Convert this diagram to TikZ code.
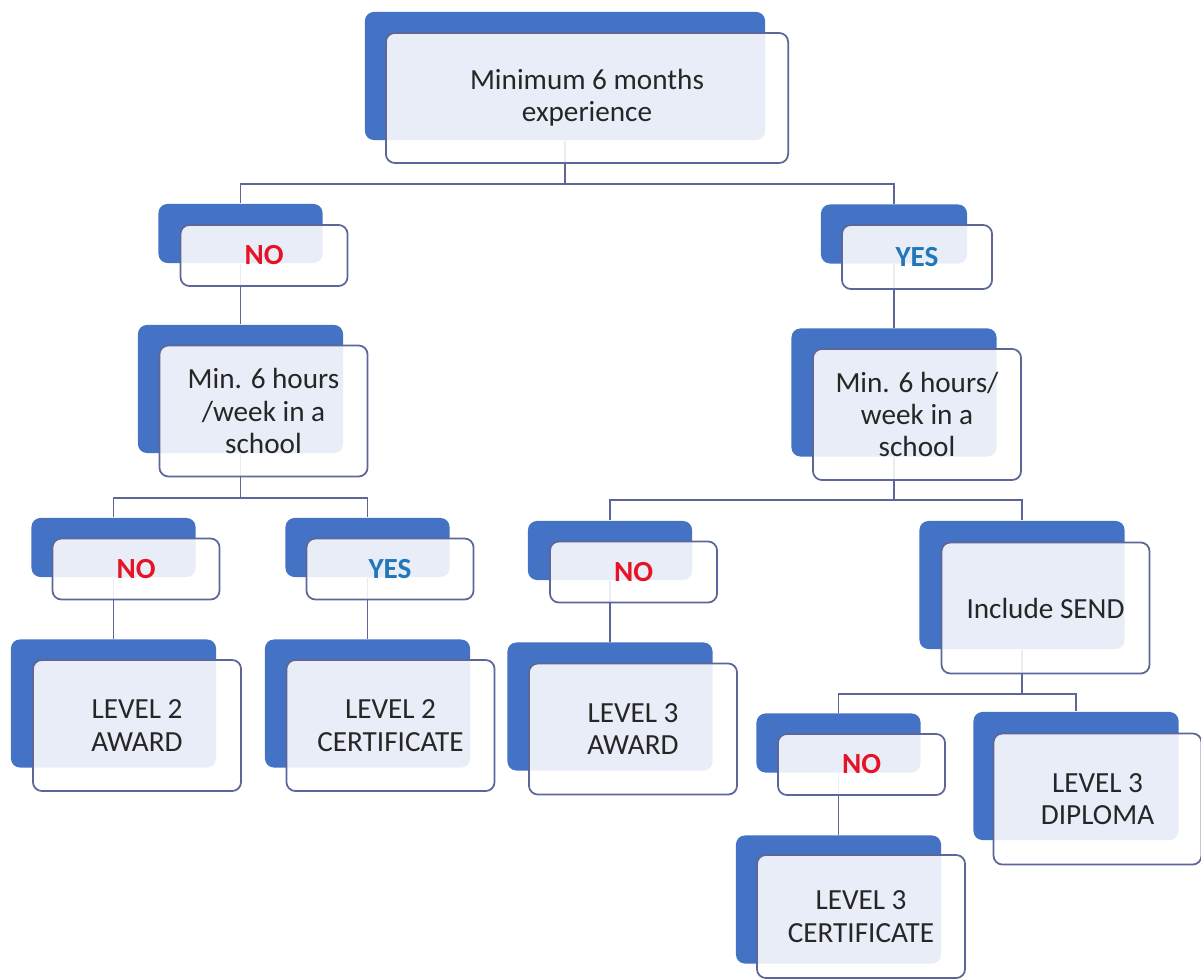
\documentclass[tikz,border=0pt]{standalone}
\usepackage{fontspec}
\setmainfont{Carlito}
\usetikzlibrary{positioning}

\definecolor{backblue}{RGB}{68,114,196}
\definecolor{edgegray}{RGB}{92,102,152}
\definecolor{nored}{RGB}{230,18,38}
\definecolor{yesblue}{RGB}{34,118,186}

\begin{document}
\begin{tikzpicture}[
    x=0.01cm, y=-0.01cm,
    back/.style={fill=backblue, rounded corners=0.09cm, inner sep=0pt},
    front/.style={draw=edgegray, line width=0.5pt, fill=white, fill opacity=0.88,
        text opacity=1, rounded corners=0.09cm, inner sep=0pt, align=center,
        text=black!85, font=\fontsize{8.3}{9.2}\selectfont},
    card/.style={minimum width=2.05cm, minimum height=1.28cm},
    cardf/.style={minimum width=2.08cm, minimum height=1.31cm},
    tag/.style={minimum width=1.64cm, minimum height=0.59cm},
    tagf/.style={minimum width=1.67cm, minimum height=0.61cm},
    answer no/.style={text=nored, font=\fontsize{8.3}{9.2}\selectfont\bfseries},
    answer yes/.style={text=yesblue, font=\fontsize{8.3}{9.2}\selectfont\bfseries},
    link/.style={draw=edgegray, line width=0.45pt}
]
    \useasboundingbox (0,0) rectangle (1201,980);

    % back plates
    \node[back, minimum width=4cm, minimum height=1.28cm] (topB) at (565,76) {};
    \node[back, tag] (noAB) at (240.5,233.5) {};
    \node[back, tag, minimum width=1.46cm] (yesAB) at (894,234) {};
    \node[back, card] (hrsLB) at (240.5,389) {};
    \node[back, card] (hrsRB) at (894,392.5) {};
    \node[back, tag] (noBB) at (113.5,547.5) {};
    \node[back, tag] (yesBB) at (367.5,547.5) {};
    \node[back, tag] (noCB) at (610,550.5) {};
    \node[back, card] (sendB) at (1022,585) {};
    \node[back, card] (awd2B) at (113.5,703.5) {};
    \node[back, card] (cert2B) at (367.5,703.5) {};
    \node[back, card] (awd3B) at (610,706.5) {};
    \node[back, tag] (noDB) at (838.5,743) {};
    \node[back, card] (diplB) at (1076,776) {};
    \node[back, card] (cert3B) at (838.5,899.5) {};

    % connectors
    \draw[link] (topB.south) -- ++(0,43) coordinate (topJ);
    \draw[link] (noAB.north) |- (topJ) -| (yesAB.north);
    \draw[link] (noAB.south) -- (hrsLB.north);
    \draw[link] (yesAB.south) -- (hrsRB.north);
    \draw[link] (hrsLB.south) -- ++(0,44) coordinate (hrsLJ);
    \draw[link] (noBB.north) |- (hrsLJ) -| (yesBB.north);
    \draw[link] (hrsRB.south) -- ++(0,43) coordinate (hrsRJ);
    \draw[link] (noCB.north) |- (hrsRJ) -| (sendB.north);
    \draw[link] (noBB.south) -- (awd2B.north);
    \draw[link] (yesBB.south) -- (cert2B.north);
    \draw[link] (noCB.south) -- (awd3B.north);
    \draw[link] (sendB.south) -- ++(0,44) coordinate (sendJ);
    \draw[link] (noDB.north) |- (sendJ) -| (diplB.north);
    \draw[link] (noDB.south) -- (cert3B.north);

    % front cards
    \node[front, minimum width=4.02cm, minimum height=1.30cm] (topF) at (587,98)
        {Minimum 6 months\\experience};
    \node[front, tagf, answer no] (noAF) at (264,255.5) {NO};
    \node[front, tagf, minimum width=1.50cm, minimum height=0.64cm, answer yes] (yesAF) at (917,257) {YES};
    \node[front, cardf] (hrsLF) at (263.5,411) {Min. 6 hours\\/week in a\\school};
    \node[front, cardf] (hrsRF) at (917,414.5) {Min. 6 hours/\\week in a\\school};
    \node[front, tagf, answer no] (noBF) at (136,569) {NO};
    \node[front, tagf, answer yes] (yesBF) at (390,569) {YES};
    \node[front, tagf, answer no] (noCF) at (633.5,572) {NO};
    \node[front, cardf] (sendF) at (1045.5,608) {Include SEND};
    \node[front, cardf] (awd2F) at (137,725.5) {LEVEL 2\\AWARD};
    \node[front, cardf] (cert2F) at (390.5,725.5) {LEVEL 2\\CERTIFICATE};
    \node[front, cardf] (awd3F) at (633,729) {LEVEL 3\\AWARD};
    \node[front, tagf, answer no] (noDF) at (861.5,764.5) {NO};
    \node[front, cardf] (diplF) at (1097.5,799) {LEVEL 3\\DIPLOMA};
    \node[front, cardf, minimum height=1.23cm] (cert3F) at (861,916.5) {LEVEL 3\\CERTIFICATE};

\end{tikzpicture}
\end{document}
